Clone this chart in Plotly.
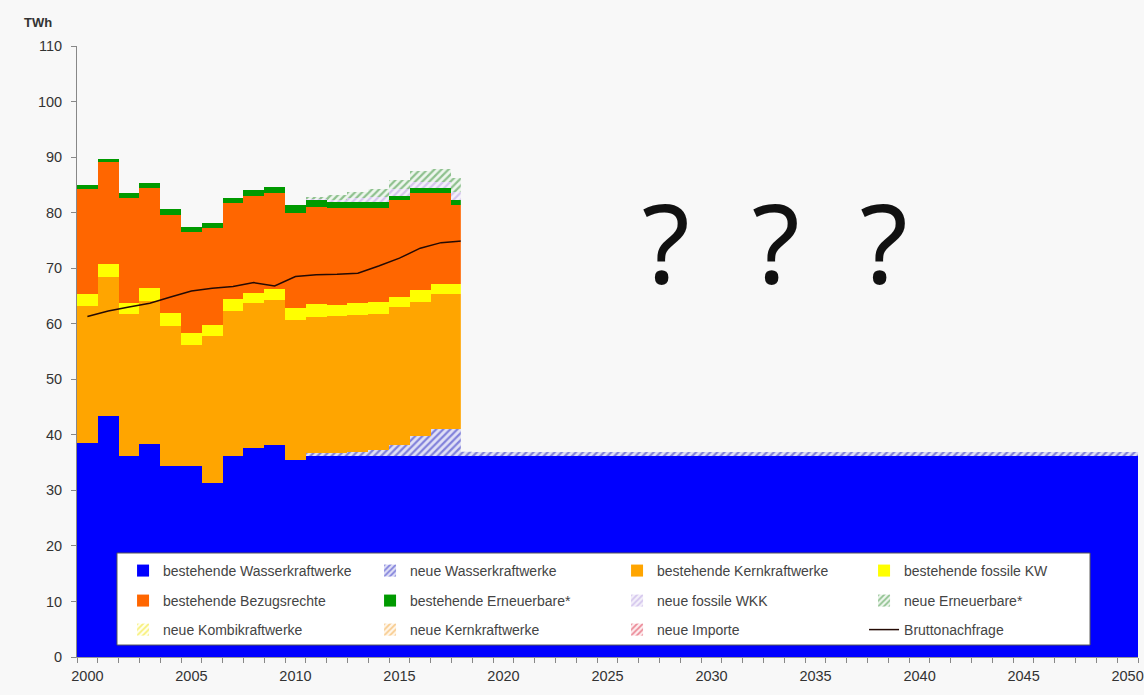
import plotly.graph_objects as go

# ---------------- data ----------------
years = [2000, 2001, 2002, 2003, 2004, 2005, 2006, 2007, 2008, 2009,
         2010, 2011, 2012, 2013, 2014, 2015, 2016, 2017, 2018,
         2019, 2020, 2021, 2022, 2023, 2024, 2025, 2026, 2027, 2028,
         2029, 2030, 2031, 2032, 2033, 2034, 2035, 2036, 2037, 2038,
         2039, 2040, 2041, 2042, 2043, 2044, 2045, 2046, 2047, 2048,
         2049, 2050]
hist_years = years[:19]

hydro_exist = [38.5, 43.4, 36.1, 38.3, 34.3, 34.4, 31.4, 36.1, 37.7, 38.2,
               35.5, 36.2, 36.2, 36.2, 36.2, 36.2, 36.2, 36.2, 36.2,
               36.2, 36.2, 36.2, 36.2, 36.2, 36.2, 36.2, 36.2, 36.2, 36.2,
               36.2, 36.2, 36.2, 36.2, 36.2, 36.2, 36.2, 36.2, 36.2, 36.2,
               36.2, 36.2, 36.2, 36.2, 36.2, 36.2, 36.2, 36.2, 36.2, 36.2,
               36.2, 36.2]
hydro_new = [0, 0, 0, 0, 0, 0, 0, 0, 0, 0,
             0, 0.5, 0.55, 0.7, 1.1, 2.0, 3.6, 4.8, 4.8,
             0.7, 0.7, 0.7, 0.7, 0.7, 0.7, 0.7, 0.7, 0.7, 0.7,
             0.7, 0.7, 0.7, 0.7, 0.7, 0.7, 0.7, 0.7, 0.7, 0.7,
             0.7, 0.7, 0.7, 0.7, 0.7, 0.7, 0.7, 0.7, 0.7, 0.7,
             0.7, 0.7]
nuclear = [24.7, 25.1, 25.6, 25.8, 25.3, 21.8, 26.4, 26.2, 26.0, 26.0,
           25.2, 24.6, 24.6, 24.7, 24.4, 24.8, 24.2, 24.3, 24.4]
fossil = [2.1, 2.2, 2.1, 2.3, 2.3, 2.2, 2.0, 2.1, 1.9, 2.0,
          2.1, 2.2, 2.1, 2.1, 2.2, 1.9, 2.1, 1.8, 1.8]
bezug = [18.9, 18.5, 18.8, 18.0, 17.7, 18.2, 17.4, 17.4, 17.4, 17.3,
         17.2, 17.6, 17.4, 17.2, 17.0, 17.3, 17.5, 16.5, 14.2]
renew_exist = [0.8, 0.4, 1.0, 0.9, 1.0, 0.8, 1.0, 0.9, 1.1, 1.2,
               1.4, 1.2, 1.1, 1.1, 1.1, 0.8, 0.8, 0.8, 0.9]
wkk_new = [0, 0, 0, 0, 0, 0, 0, 0, 0, 0,
           0, 0.2, 0.4, 0.6, 0.8, 1.2, 1.2, 1.2, 1.5]
renew_new = [0, 0, 0, 0, 0, 0, 0, 0, 0, 0,
             0, 0.2, 0.8, 1.2, 1.4, 1.6, 1.9, 2.2, 2.4]
kombi_new = [0, 0, 0, 0, 0, 0, 0, 0, 0, 0,
             0, 0, 0, 0, 0, 0, 0, 0, 0]
kern_new = [0, 0, 0, 0, 0, 0, 0, 0, 0, 0,
            0, 0, 0, 0, 0, 0, 0, 0, 0]
import_new = [0, 0, 0, 0, 0, 0, 0, 0, 0, 0,
              0, 0, 0, 0, 0, 0, 0, 0, 0]
demand = [61.3, 62.3, 63.0, 63.7, 64.8, 65.9, 66.4, 66.7, 67.4, 66.8,
          68.5, 68.8, 68.9, 69.1, 70.4, 71.8, 73.6, 74.6, 74.9]

x_tick_years = [2000, 2005, 2010, 2015, 2020, 2025, 2030, 2035, 2040, 2045, 2050]
y_ticks = [0, 10, 20, 30, 40, 50, 60, 70, 80, 90, 100, 110]
visible_until = 2017.95   # the published picture hides everything above the hydro band after this point
question_marks = ["?", "?", "?"]
question_x = [2027.8, 2033.1, 2038.3]

# ---------------- figure ----------------
BG = "#f8f8f8"
FONT = "Liberation Sans, Arial, sans-serif"
TXT = "#333333"

fig = go.Figure()

def solid(name, x, y, color, legend):
    fig.add_trace(go.Bar(name=name, x=x, y=y, legend=legend,
                         marker=dict(color=color, line=dict(width=0))))

def hatch(name, x, y, fg, bg, legend):
    fig.add_trace(go.Bar(name=name, x=x, y=y, legend=legend,
                         marker=dict(color=bg, line=dict(width=0),
                                     pattern=dict(shape="/", fgcolor=fg, bgcolor=bg,
                                                  size=5, solidity=0.45))))

solid("bestehende Wasserkraftwerke", years, hydro_exist, "#0000ff", "legend")
hatch("neue Wasserkraftwerke", years, hydro_new, "#2424c0", "#e0e0f6", "legend")
solid("bestehende Kernkraftwerke", hist_years, nuclear, "#ffa500", "legend")
solid("bestehende fossile KW", hist_years, fossil, "#ffff00", "legend")
solid("bestehende Bezugsrechte", hist_years, bezug, "#ff6600", "legend2")
solid("bestehende Erneuerbare*", hist_years, renew_exist, "#009a00", "legend2")
hatch("neue fossile WKK", hist_years, wkk_new, "#b49be0", "#f4f0fa", "legend2")
hatch("neue Erneuerbare*", hist_years, renew_new, "#2e8b2e", "#eef6ee", "legend2")
hatch("neue Kombikraftwerke", hist_years, kombi_new, "#f0e000", "#fffff0", "legend3")
hatch("neue Kernkraftwerke", hist_years, kern_new, "#f0a030", "#fff6ea", "legend3")
hatch("neue Importe", hist_years, import_new, "#d8203a", "#fdeef0", "legend3")
fig.add_trace(go.Scatter(name="Bruttonachfrage", x=hist_years, y=demand, mode="lines",
                         legend="legend3",
                         line=dict(color="#240a04", width=1.5)))

# cover of the hidden future part
fig.add_shape(type="rect", xref="x", yref="y", x0=visible_until, x1=2050.6,
              y0=36.95, y1=111, fillcolor=BG, line=dict(width=0), layer="above")
# legend frame
fig.add_shape(type="rect", xref="paper", yref="paper",
              x0=0.0377, x1=0.9548, y0=0.0196, y1=0.1702,
              fillcolor="white", line=dict(color="#555555", width=1), layer="above")

for t, xq in zip(question_marks, question_x):
    fig.add_annotation(x=xq, y=75.0, xref="x", yref="y", text=t, showarrow=False,
                       font=dict(family="Noto Sans, sans-serif", size=110, color="#111111"),
                       xanchor="center", yanchor="middle")

fig.add_annotation(x=-0.0515, y=1.054, xref="paper", yref="paper", text="<b>TWh</b>",
                   showarrow=False, xanchor="left", yanchor="top",
                   font=dict(family=FONT, size=13, color="#333333"))

leg_common = dict(orientation="h", xanchor="left", yanchor="middle", x=0.0434,
                  bgcolor="rgba(0,0,0,0)", borderwidth=0, entrywidth=202,
                  entrywidthmode="pixels", traceorder="normal",
                  font=dict(family=FONT, size=14, color="#444444"))

fig.update_layout(
    width=1144, height=695,
    margin=dict(l=77, r=6, t=46, b=38, autoexpand=False),
    paper_bgcolor=BG, plot_bgcolor=BG,
    barmode="stack", bargap=0,
    font=dict(family=FONT, color=TXT),
    legend=dict(y=0.1408, **leg_common),
    legend2=dict(y=0.0917, **leg_common),
    legend3=dict(y=0.0442, **leg_common),
    xaxis=dict(range=[1999.5, 2050.5], tickvals=x_tick_years, ticks="",
               automargin=False,
               showline=True, linecolor="#999999", showgrid=False, zeroline=False,
               tickfont=dict(size=14.5, color=TXT), ticklabelstandoff=6,
               minor=dict(tickmode="linear", tick0=1999.5, dtick=1, ticks="outside",
                          ticklen=5, tickcolor="#888888", showgrid=False)),
    yaxis=dict(range=[0, 110], tickvals=y_ticks, ticks="outside", ticklen=5,
               automargin=False,
               tickcolor="#888888", showline=True, linecolor="#888888",
               showgrid=False, zeroline=False,
               tickfont=dict(size=14.5, color=TXT), ticklabelstandoff=6),
)

fig.write_html("out.html")
